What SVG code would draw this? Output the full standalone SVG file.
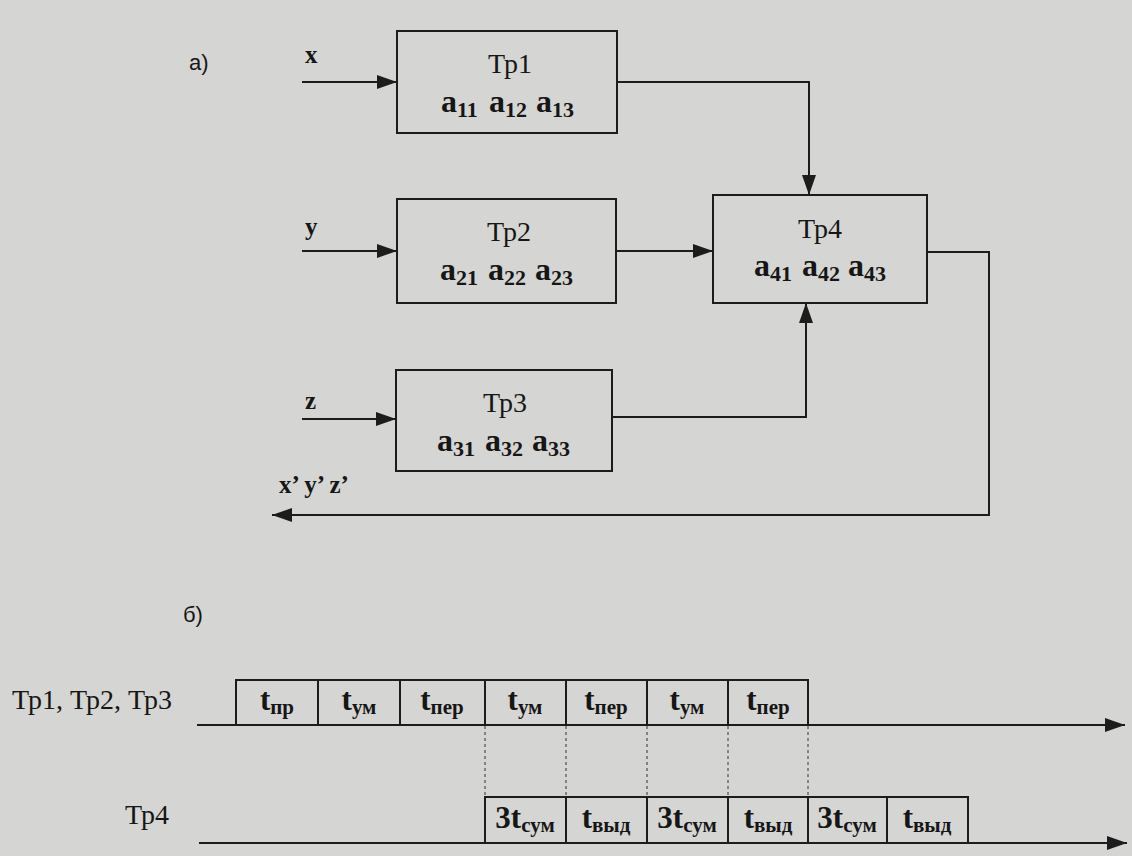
<svg xmlns="http://www.w3.org/2000/svg" width="1132" height="856" viewBox="0 0 1132 856">
<defs>
<style>
.ln{stroke:#1c1c1c;stroke-width:2;fill:none}
.bx{stroke:#1c1c1c;stroke-width:2;fill:none}
.ds{stroke:#333;stroke-width:1;stroke-dasharray:3 3;fill:none}
.lbl{font-family:"Liberation Serif","Times New Roman",serif;font-size:28px;fill:#161616}
.ab{font-family:"Liberation Sans",Arial,sans-serif;font-size:22px;fill:#161616}
.io{font-family:"Liberation Serif","Times New Roman",serif;font-size:25px;font-weight:bold;fill:#161616}
.cf{font-family:"Liberation Serif","Times New Roman",serif;font-size:32px;font-weight:bold;fill:#161616}
.cs{font-size:22px}
.tt{font-family:"Liberation Serif","Times New Roman",serif;font-size:31px;font-weight:bold;fill:#161616;text-anchor:middle}
.ts{font-size:21px}
</style>
<marker id="ah" markerUnits="userSpaceOnUse" markerWidth="20" markerHeight="14" refX="20" refY="7" orient="auto">
<path d="M0,0 L20,7 L0,14 z" fill="#1c1c1c"/>
</marker>
</defs>
<rect width="1132" height="856" fill="#d5d5d3"/>

<text class="ab" x="189" y="70">a)</text>

<g id="connectors">
<path class="ln" d="M302,82 H397" marker-end="url(#ah)"/>
<path class="ln" d="M302,251 H397" marker-end="url(#ah)"/>
<path class="ln" d="M302,419 H396" marker-end="url(#ah)"/>
<path class="ln" d="M617,82 H809 V195" marker-end="url(#ah)"/>
<path class="ln" d="M617,251 H713" marker-end="url(#ah)"/>
<path class="ln" d="M612,417 H806 V303" marker-end="url(#ah)"/>
<path class="ln" d="M927,252 H989 V515 H272" marker-end="url(#ah)"/>
</g>

<g id="labels-io">
<text class="io" x="305" y="63">x</text>
<text class="io" x="305" y="235">y</text>
<text class="io" x="305" y="409">z</text>
<text class="io" x="279" y="493">x’ y’ z’</text>
</g>

<g id="tp1">
<rect class="bx" x="397" y="31" width="220" height="102"/>
<text class="lbl" x="510" y="73" text-anchor="middle">Тр1</text>
<text class="cf" x="441" y="112">a<tspan class="cs" dy="5">11</tspan></text>
<text class="cf" x="489" y="112">a<tspan class="cs" dy="5">12</tspan></text>
<text class="cf" x="536" y="112">a<tspan class="cs" dy="5">13</tspan></text>
</g>

<g id="tp2">
<rect class="bx" x="397" y="199" width="219" height="104"/>
<text class="lbl" x="509" y="241" text-anchor="middle">Тр2</text>
<text class="cf" x="440" y="280">a<tspan class="cs" dy="5">21</tspan></text>
<text class="cf" x="488" y="280">a<tspan class="cs" dy="5">22</tspan></text>
<text class="cf" x="535" y="280">a<tspan class="cs" dy="5">23</tspan></text>
</g>

<g id="tp3">
<rect class="bx" x="396" y="370" width="216" height="101"/>
<text class="lbl" x="505" y="412" text-anchor="middle">Тр3</text>
<text class="cf" x="437" y="451">a<tspan class="cs" dy="5">31</tspan></text>
<text class="cf" x="485" y="451">a<tspan class="cs" dy="5">32</tspan></text>
<text class="cf" x="532" y="451">a<tspan class="cs" dy="5">33</tspan></text>
</g>

<g id="tp4">
<rect class="bx" x="713" y="195" width="214" height="108"/>
<text class="lbl" x="820" y="238" text-anchor="middle">Тр4</text>
<text class="cf" x="754" y="276">a<tspan class="cs" dy="5">41</tspan></text>
<text class="cf" x="802" y="276">a<tspan class="cs" dy="5">42</tspan></text>
<text class="cf" x="848" y="276">a<tspan class="cs" dy="5">43</tspan></text>
</g>

<text class="ab" x="183" y="622">б)</text>

<g id="timeline-1">
<text class="lbl" x="12" y="709" font-size="26">Тр1, Тр2, Тр3</text>
<path class="ln" d="M197,725 H1125" marker-end="url(#ah)"/>
<path class="ln" d="M236,725 V680 H808 V725 M318,680 V725 M400,680 V725 M485,680 V725 M566,680 V725 M647,680 V725 M728,680 V725"/>
<text class="tt" x="277" y="710">t<tspan class="ts" dy="4">пр</tspan></text>
<text class="tt" x="359" y="710">t<tspan class="ts" dy="4">ум</tspan></text>
<text class="tt" x="442" y="710">t<tspan class="ts" dy="4">пер</tspan></text>
<text class="tt" x="525" y="710">t<tspan class="ts" dy="4">ум</tspan></text>
<text class="tt" x="606" y="710">t<tspan class="ts" dy="4">пер</tspan></text>
<text class="tt" x="687" y="710">t<tspan class="ts" dy="4">ум</tspan></text>
<text class="tt" x="768" y="710">t<tspan class="ts" dy="4">пер</tspan></text>
</g>

<g id="dashes">
<path class="ds" d="M485,726 V797 M566,726 V797 M647,726 V797 M728,726 V797 M808,726 V797"/>
</g>

<g id="timeline-2">
<text class="lbl" x="125" y="824" font-size="26">Тр4</text>
<path class="ln" d="M199,843 H1127" marker-end="url(#ah)"/>
<path class="ln" d="M485,843 V797 H968 V843 M566,797 V843 M647,797 V843 M728,797 V843 M808,797 V843 M887,797 V843"/>
<text class="tt" x="525" y="828">3t<tspan class="ts" dy="4">сум</tspan></text>
<text class="tt" x="606" y="828">t<tspan class="ts" dy="4">выд</tspan></text>
<text class="tt" x="687" y="828">3t<tspan class="ts" dy="4">сум</tspan></text>
<text class="tt" x="768" y="828">t<tspan class="ts" dy="4">выд</tspan></text>
<text class="tt" x="847" y="828">3t<tspan class="ts" dy="4">сум</tspan></text>
<text class="tt" x="927" y="828">t<tspan class="ts" dy="4">выд</tspan></text>
</g>
</svg>
